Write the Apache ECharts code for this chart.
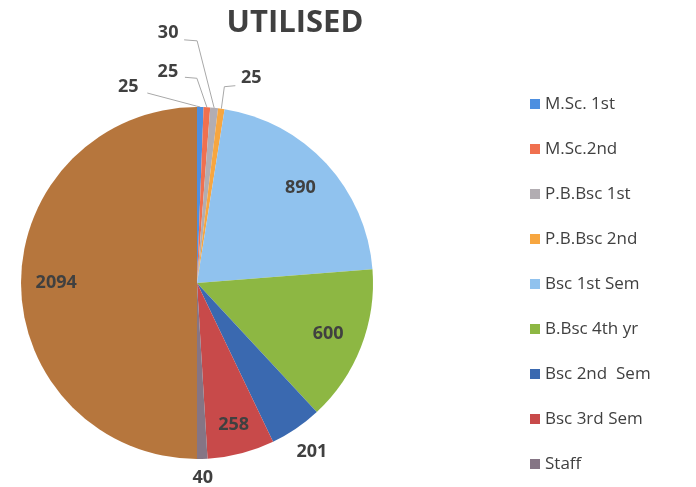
<!DOCTYPE html>
<html>
<head>
<meta charset="utf-8">
<script src="https://cdn.jsdelivr.net/npm/echarts@6/dist/echarts.min.js"></script>
<style>
  html, body { margin: 0; padding: 0; background: #fff; }
  #chart { width: 696px; height: 487px; }
</style>
</head>
<body>
<div id="chart"></div>
<script>
// slices, clockwise from 12 o'clock
const names = [
  "M.Sc. 1st", "M.Sc.2nd", "P.B.Bsc 1st", "P.B.Bsc 2nd", "Bsc 1st Sem",
  "B.Bsc 4th yr", "Bsc 2nd  Sem", "Bsc 3rd Sem", "Staff", "Total",
];
const values = [25, 25, 30, 25, 890, 600, 201, 258, 40, 2094];
const colors = [
  "#4d8fe0", "#f0704f", "#b2adb2", "#f7a640", "#90c2ee",
  "#8db743", "#3a69b0", "#c84a4a", "#857585", "#b6763d",
];
// the last slice is not in the visible legend
const legendNames = names.slice(0, 9);

const CX = 197, CY = 283, R = 176;
const total = values.reduce((a, b) => a + b, 0);

// label placement: radial factor, or custom offsets with leader line
const radial = { 4: 0.8, 5: 0.8, 7: 0.83, 9: 0.8, 6: 1.16, 8: 1.11 };
const leader = {
  0: { lab: [-72, -20], bend: (e, l) => [e[0] - 4, e[1] - 1], end: [19, 6] },
  1: { lab: [-39, -35], bend: (e, l) => [e[0] - 10, l[1] + 6], end: [17, 5] },
  2: { lab: [-46, -75], bend: (e, l) => [e[0] - 17, l[1] + 8], end: [16, 7] },
  3: { lab: [30, -31], bend: (e, l) => [e[0] + 3, l[1] + 9], end: [-16, 8] },
};

function midAngle(i) {
  let cum = 0;
  for (let k = 0; k < i; k++) cum += values[k];
  return ((cum + values[i] / 2) / total) * Math.PI * 2;
}

const chart = echarts.init(document.getElementById("chart"));
chart.setOption({
  animation: false,
  title: {
    text: "UTILISED",
    left: 290,
    top: 3,
    textAlign: "center",
    textStyle: { fontFamily: "Open Sans", fontWeight: "bold", fontSize: 31, color: "#404040" },
  },
  legend: {
    orient: "vertical",
    left: 525,
    top: 89,
    data: legendNames,
    icon: "rect",
    itemWidth: 10,
    itemHeight: 10,
    itemGap: 25,
    textStyle: { fontFamily: "Open Sans", fontSize: 17, color: "#404040", lineHeight: 20 },
  },
  series: [
    {
      type: "pie",
      center: [CX, CY],
      radius: [0, R],
      startAngle: 90,
      clockwise: true,
      avoidLabelOverlap: false,
      data: names.map((n, i) => ({
        name: n,
        value: values[i],
        itemStyle: { color: colors[i] },
        labelLine: { show: i in leader },
      })),
      label: {
        show: true,
        position: "outside",
        formatter: "{c}",
        fontFamily: "Open Sans",
        fontWeight: "bold",
        fontSize: 18,
        color: "#404040",
      },
      labelLine: { lineStyle: { color: "#a8a8a8", width: 1 }, length: 10, length2: 10 },
      labelLayout: (p) => {
        const i = p.dataIndex;
        const a = midAngle(i);
        const edge = [CX + R * Math.sin(a), CY - R * Math.cos(a)];
        if (leader[i]) {
          const L = leader[i];
          const lab = [edge[0] + L.lab[0], edge[1] + L.lab[1]];
          return {
            x: lab[0], y: lab[1], align: "center", verticalAlign: "middle",
            labelLinePoints: [edge, L.bend(edge, lab), [lab[0] + L.end[0], lab[1] + L.end[1]]],
          };
        }
        const f = radial[i];
        return {
          x: CX + R * f * Math.sin(a),
          y: CY - R * f * Math.cos(a),
          align: "center",
          verticalAlign: "middle",
        };
      },
    },
  ],
});
</script>
</body>
</html>
